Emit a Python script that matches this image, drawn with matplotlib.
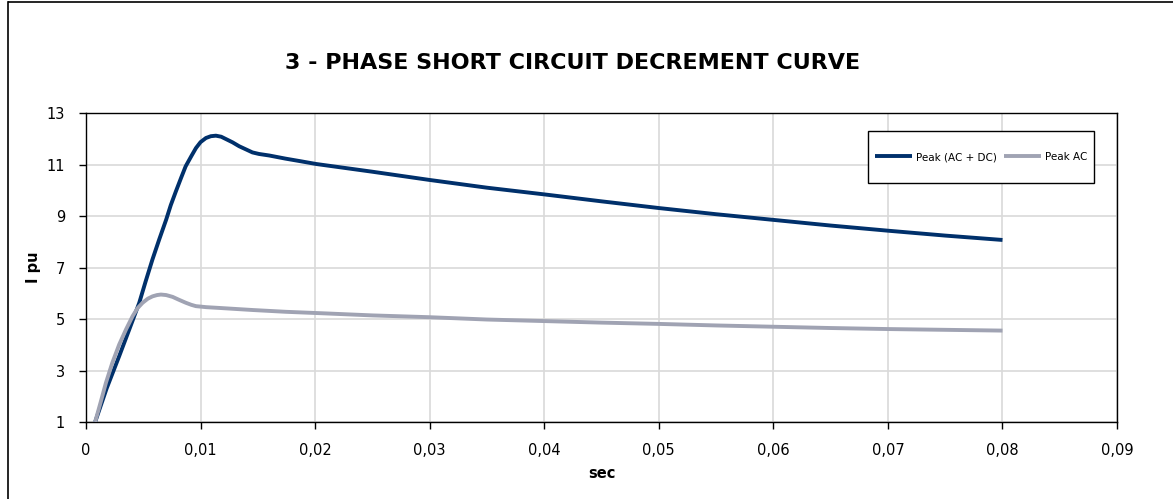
import matplotlib.pyplot as plt
from matplotlib.lines import Line2D
from matplotlib.patches import Rectangle

# time points (s) and per-unit peak currents
t_total = [0.0008, 0.0018, 0.0029, 0.0038, 0.00465, 0.0052, 0.0058, 0.0064,
           0.0070, 0.0074, 0.00785, 0.0083, 0.0087, 0.0092, 0.0096, 0.0100,
           0.01047, 0.0109, 0.01134, 0.0118, 0.01221, 0.0128, 0.01337,
           0.0140, 0.01453, 0.0151, 0.0160, 0.0174, 0.0187, 0.0201,
           0.025, 0.030, 0.035, 0.040, 0.045, 0.050, 0.055, 0.060, 0.065,
           0.070, 0.075, 0.080]
i_total = [1.0, 2.3, 3.56, 4.62, 5.63, 6.45, 7.31, 8.1,
           8.86, 9.42, 9.96, 10.48, 10.93, 11.33, 11.64, 11.87,
           12.03, 12.1, 12.12, 12.08, 11.99, 11.86, 11.71,
           11.58, 11.47, 11.41, 11.35, 11.23, 11.13, 11.02,
           10.72, 10.4, 10.1, 9.84, 9.57, 9.31, 9.07, 8.85, 8.63,
           8.43, 8.24, 8.07]

t_ac = [0.0008, 0.0013, 0.00174, 0.0023, 0.0029, 0.0035, 0.00407, 0.0045,
        0.00494, 0.0054, 0.00581, 0.0062, 0.00654, 0.0070, 0.00756, 0.0081,
        0.00872, 0.0092, 0.00959, 0.0105, 0.01163, 0.01453, 0.01744,
        0.02078, 0.025, 0.030, 0.035, 0.040, 0.045, 0.050, 0.055, 0.060,
        0.065, 0.070, 0.075, 0.080]
i_ac = [1.0, 1.8, 2.52, 3.3, 4.01, 4.6, 5.11, 5.42,
        5.63, 5.79, 5.88, 5.93, 5.95, 5.93, 5.86, 5.75,
        5.63, 5.55, 5.5, 5.46, 5.43, 5.35, 5.28,
        5.22, 5.14, 5.07, 4.98, 4.92, 4.86, 4.81, 4.75, 4.7,
        4.65, 4.61, 4.58, 4.55]

xticks = [0, 0.01, 0.02, 0.03, 0.04, 0.05, 0.06, 0.07, 0.08, 0.09]
xlabels = ['0', '0,01', '0,02', '0,03', '0,04', '0,05', '0,06', '0,07', '0,08', '0,09']
yticks = [1, 3, 5, 7, 9, 11, 13]

plt.rcParams['font.family'] = 'DejaVu Sans'

fig = plt.figure(figsize=(11.73, 4.99), dpi=100)
ax = fig.add_axes([0.0733, 0.1543, 0.8790, 0.6192])

# outer chart frame (only left and top edges fall inside the image)
fx, fy = 7.5 / 1173, 1 - 1.5 / 499
fig.add_artist(Line2D([fx, fx], [0, fy], transform=fig.transFigure, color='black', linewidth=1.2))
fig.add_artist(Line2D([fx, 1.05], [fy, fy], transform=fig.transFigure, color='black',
                      linewidth=1.2, solid_capstyle='butt'))

ax.plot(t_total, i_total, color='#00306b', linewidth=2.8, label='Peak (AC + DC)',
        solid_capstyle='butt', solid_joinstyle='round', zorder=3)
ax.plot(t_ac, i_ac, color='#a0a3b3', linewidth=2.8, label='Peak AC',
        solid_capstyle='butt', solid_joinstyle='round', zorder=3)

ax.set_xlim(0, 0.09)
ax.set_ylim(1, 13)
ax.set_xticks(xticks)
ax.set_xticklabels(xlabels)
ax.set_yticks(yticks)
ax.tick_params(direction='out', length=5, width=1, labelsize=10.5, pad=10)
ax.grid(True, color='#d9d9d9', linewidth=1.2)
ax.set_axisbelow(True)
for s in ax.spines.values():
    s.set_linewidth(1)
    s.set_color('black')

ax.set_xlabel('sec', fontsize=10.5, fontweight='bold', labelpad=6)
ax.set_ylabel('I pu', fontsize=10.5, fontweight='bold', labelpad=4)

fig.text(0.488, 0.873, '3 - PHASE SHORT CIRCUIT DECREMENT CURVE', ha='center', va='center',
         fontsize=16, fontweight='bold')

# legend box drawn separately so its padding can differ per side
ax.add_patch(Rectangle((0.7585, 0.7735), 0.2192, 0.1682, transform=ax.transAxes,
                       facecolor='white', edgecolor='black', linewidth=1, zorder=4))
leg = ax.legend(ncol=2, loc='center', bbox_to_anchor=(0.868, 0.8576), fontsize=7.5,
                frameon=False, handlelength=3.6, handletextpad=0.35, columnspacing=0.7,
                borderpad=0, borderaxespad=0)
leg.set_zorder(5)

plt.savefig('out.png', dpi=100)
